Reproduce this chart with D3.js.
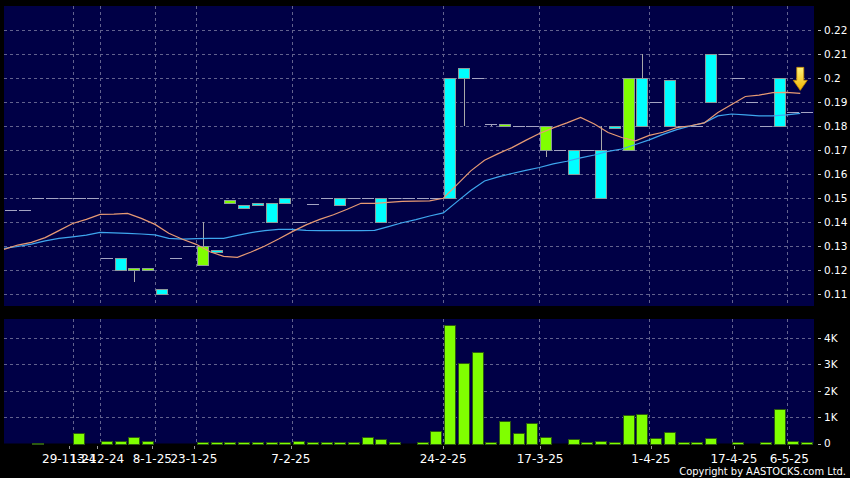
<!DOCTYPE html>
<html><head><meta charset="utf-8">
<script src="https://cdn.jsdelivr.net/npm/d3@7"></script>
<style>html,body{margin:0;padding:0;background:#000;}svg{display:block;}</style>
</head><body>
<svg id="chart" width="850" height="478"></svg>
<script>
// ---------------- data ----------------
const slots = d3.range(59);
const dateTickSlots = [5, 7, 11, 14, 21, 32, 39, 47, 53, 57];
const dateLabels = ["29-11-24", "13-12-24", "8-1-25", "23-1-25", "7-2-25", "24-2-25", "17-3-25", "1-4-25", "17-4-25", "6-5-25"];
const open  = [.145,.145,.15,.15,.15,.15,.15,.125,.12,.121,.121,.11,.125,.13,.13,.1275,.149,.146,.147,.14,.148,.14,.1475,.15,.147,.15,.15,.14,.15,.15,.15,.15,.15,.20,.20,.181,.181,.18,.18,.18,.17,.16,.17,.15,.179,.20,.18,.19,.18,.18,.18,.19,.21,.20,.19,.18,.18,.186,.186];
const high  = [.145,.145,.15,.15,.15,.15,.15,.125,.125,.121,.121,.112,.125,.13,.14,.1285,.149,.147,.148,.148,.15,.14,.1475,.15,.15,.15,.15,.15,.15,.15,.15,.15,.20,.204,.20,.181,.181,.18,.18,.18,.17,.17,.17,.18,.18,.20,.21,.19,.199,.18,.18,.21,.21,.20,.19,.18,.20,.186,.186];
const low   = [.145,.145,.15,.15,.15,.15,.15,.125,.12,.115,.12,.11,.125,.13,.122,.1275,.148,.146,.147,.14,.148,.14,.1475,.15,.147,.15,.15,.14,.15,.15,.15,.15,.15,.18,.20,.18,.18,.18,.18,.167,.17,.16,.17,.15,.179,.17,.18,.19,.18,.18,.18,.19,.21,.20,.19,.18,.18,.186,.186];
const close = [.145,.145,.15,.15,.15,.15,.15,.125,.125,.12,.12,.112,.125,.13,.122,.1285,.148,.147,.148,.148,.15,.14,.1475,.15,.15,.15,.15,.15,.15,.15,.15,.15,.20,.204,.20,.181,.18,.18,.18,.17,.17,.17,.17,.17,.18,.17,.20,.19,.199,.18,.18,.21,.21,.20,.19,.18,.20,.186,.186];
const volumeK = [0,0,0.01,0,0,0.38,0,0.09,0.09,0.23,0.08,0,0,0,0.06,0.05,0.05,0.05,0.05,0.05,0.06,0.10,0.06,0.05,0.06,0.05,0.24,0.18,0.06,0,0.06,0.48,4.5,3.04,3.47,0.05,0.85,0.38,0.78,0.24,0,0.17,0.05,0.08,0.05,1.08,1.12,0.19,0.42,0.04,0.04,0.20,0,0.05,0,0.04,1.30,0.09,0.07];
const maShort = [.1286,.1304,.1315,.1335,.1364,.1394,.1411,.1432,.1433,.1436,.1415,.139,.1353,.1328,.1307,.1276,.1257,.1253,.1275,.13,.1329,.136,.1388,.1411,.143,.1453,.1478,.1478,.1482,.1486,.1487,.1488,.1499,.1556,.1613,.1657,.1685,.171,.174,.1769,.1792,.1813,.1836,.1808,.1773,.1752,.1738,.1761,.1774,.1793,.1801,.1813,.1856,.189,.1923,.1929,.1939,.194,.1936];
const maLong  = [.129,.1298,.1308,.1321,.1332,.1338,.1345,.1357,.1355,.1353,.135,.1346,.1332,.1329,.1331,.1332,.1332,.1344,.1356,.1364,.1369,.1369,.1365,.1364,.1364,.1364,.1364,.1365,.1381,.1397,.141,.1425,.1438,.1485,.1531,.1571,.1588,.1602,.1615,.1627,.1642,.1653,.1667,.1679,.1694,.1704,.1723,.1742,.1765,.1785,.18,.1813,.1842,.185,.1846,.1842,.1842,.1846,.1853];
const priceTicks = [0.11,0.12,0.13,0.14,0.15,0.16,0.17,0.18,0.19,0.20,0.21,0.22];
const volTicks = [0,1,2,3,4];

// ---------------- layout ----------------
const svg = d3.select("#chart");
const L = 4, R = 814, mainTop = 6, mainBot = 306, volTop = 319, volBot = 443.5;
const navy = "#000046", gridCol = "#62628e";

const x = d3.scaleBand().domain(slots).range([L, R]);
const tickX = d3.scaleLinear().domain([0, 59]).range([0, 817]);
const y = d3.scaleLinear().domain([0.105, 0.23]).range([mainBot, mainTop]);
const yv = d3.scaleLinear().domain([0, 4.72]).range([volBot, volTop]);
const bw = x.bandwidth();
const inset = 0.8;

svg.append("rect").attr("width", 850).attr("height", 478).attr("fill", "#000");
svg.append("rect").attr("x", L).attr("y", mainTop).attr("width", R - L).attr("height", mainBot - mainTop).attr("fill", navy);
svg.append("rect").attr("x", L).attr("y", volTop).attr("width", R - L).attr("height", volBot - volTop).attr("fill", navy);

// grids
const grid = svg.append("g").attr("stroke", gridCol).attr("stroke-dasharray", "3,3").attr("stroke-width", 1).attr("shape-rendering", "crispEdges");
grid.selectAll(".hp").data(priceTicks).join("line")
  .attr("x1", L).attr("x2", R).attr("y1", d => Math.round(y(d)) + 0.5).attr("y2", d => Math.round(y(d)) + 0.5);
grid.selectAll(".hv").data(volTicks.filter(d => d > 0)).join("line").attr("class", "hv")
  .attr("x1", L).attr("x2", R).attr("y1", d => Math.round(yv(d)) + 0.5).attr("y2", d => Math.round(yv(d)) + 0.5);
grid.selectAll(".vm").data(dateTickSlots).join("line").attr("class", "vm")
  .attr("x1", d => Math.round(x(d)) + 0.5).attr("x2", d => Math.round(x(d)) + 0.5).attr("y1", mainTop).attr("y2", mainBot);
grid.selectAll(".vv").data(dateTickSlots).join("line").attr("class", "vv")
  .attr("x1", d => Math.round(x(d)) + 0.5).attr("x2", d => Math.round(x(d)) + 0.5).attr("y1", volTop).attr("y2", volBot);

// candles
const cd = slots.map(i => ({i, o: open[i], h: high[i], l: low[i], c: close[i]}));
const cg = svg.append("g");
cg.selectAll(".wick").data(cd.filter(d => d.h > Math.max(d.o, d.c) || d.l < Math.min(d.o, d.c))).join("line")
  .attr("class", "wick").attr("stroke", "#a8a8a8").attr("stroke-width", 1).attr("shape-rendering", "crispEdges")
  .attr("x1", d => Math.round(x(d.i) + bw / 2) + 0.5).attr("x2", d => Math.round(x(d.i) + bw / 2) + 0.5)
  .attr("y1", d => y(d.h)).attr("y2", d => y(d.l));
cg.selectAll(".doji").data(cd.filter(d => d.o === d.c)).join("line")
  .attr("class", "doji").attr("stroke", "#a4a4c2").attr("stroke-width", 1).attr("shape-rendering", "crispEdges")
  .attr("x1", d => x(d.i) + inset).attr("x2", d => x(d.i) + bw - inset)
  .attr("y1", d => Math.round(y(d.c)) + 0.5).attr("y2", d => Math.round(y(d.c)) + 0.5);
cg.selectAll(".body").data(cd.filter(d => d.o !== d.c)).join("rect")
  .attr("class", "body")
  .attr("x", d => Math.round(x(d.i) + inset) + 0.5).attr("width", Math.round(bw - 2 * inset) - 1)
  .attr("y", d => Math.round(y(Math.max(d.o, d.c))) + 0.5)
  .attr("height", d => Math.max(1, Math.round(y(Math.min(d.o, d.c))) - Math.round(y(Math.max(d.o, d.c)))))
  .attr("fill", d => d.c > d.o ? "#00ffff" : "#80ff00")
  .attr("stroke", "#8c9c9c").attr("stroke-width", 1).attr("shape-rendering", "crispEdges");

// moving averages (plotted at slot edges)
const lineFn = arr => d3.line().x((d, i) => x(i)).y(d => y(d))(arr);
svg.append("path").attr("d", lineFn(maLong)).attr("fill", "none").attr("stroke", "#3ea6ee").attr("stroke-width", 1.2);
svg.append("path").attr("d", lineFn(maShort)).attr("fill", "none").attr("stroke", "#e79a74").attr("stroke-width", 1.2);

// arrow annotation at last point
const defs = svg.append("defs");
const gr = defs.append("linearGradient").attr("id", "ag").attr("x1", 0).attr("x2", 0).attr("y1", 0).attr("y2", 1);
gr.append("stop").attr("offset", "0%").attr("stop-color", "#fff27a");
gr.append("stop").attr("offset", "100%").attr("stop-color", "#f2b400");
const ax = x(58), ay = y(maShort[58]) - 3;
svg.append("path")
  .attr("d", `M${ax - 3.5},${ay - 23} L${ax + 3.5},${ay - 23} L${ax + 3.5},${ay - 10} L${ax + 7},${ay - 10} L${ax},${ay} L${ax - 7},${ay - 10} L${ax - 3.5},${ay - 10} Z`)
  .attr("fill", "url(#ag)").attr("stroke", "#c88a00").attr("stroke-width", 0.8);

// volume bars
svg.append("g").selectAll("rect").data(slots.filter(i => volumeK[i] > 0)).join("rect")
  .attr("x", i => Math.round(x(i) + inset) + 0.5).attr("width", Math.round(bw - 2 * inset) - 1)
  .attr("y", i => Math.round(yv(volumeK[i])) + 0.5)
  .attr("height", i => Math.max(1, Math.round(volBot) - Math.round(yv(volumeK[i]))))
  .attr("fill", "#80ff00").attr("stroke", "#2c5a10").attr("stroke-width", 1).attr("shape-rendering", "crispEdges");

// right axes
const fmtP = d => String(+d.toFixed(2));
const pa = svg.append("g").attr("font-family", "DejaVu Sans").attr("font-size", 10.5).attr("fill", "#fff");
pa.selectAll("line").data(priceTicks).join("line").attr("stroke", "#bbb").attr("shape-rendering", "crispEdges")
  .attr("x1", 818).attr("x2", 821).attr("y1", d => Math.round(y(d)) + 0.5).attr("y2", d => Math.round(y(d)) + 0.5);
pa.selectAll("text").data(priceTicks).join("text").attr("x", 824).attr("y", d => y(d)).attr("dy", "0.36em").text(fmtP);
const va = svg.append("g").attr("font-family", "DejaVu Sans").attr("font-size", 10.5).attr("fill", "#fff");
va.selectAll("line").data(volTicks).join("line").attr("stroke", "#bbb").attr("shape-rendering", "crispEdges")
  .attr("x1", 818).attr("x2", 821).attr("y1", d => Math.round(yv(d)) + 0.5).attr("y2", d => Math.round(yv(d)) + 0.5);
va.selectAll("text").data(volTicks).join("text").attr("x", 824).attr("y", d => yv(d)).attr("dy", "0.36em").text(d => d === 0 ? "0" : d + "K");

// bottom date axis
const da = svg.append("g").attr("font-family", "DejaVu Sans").attr("font-size", 12).attr("fill", "#fff");
da.selectAll("line").data(dateTickSlots).join("line").attr("stroke", "#999").attr("shape-rendering", "crispEdges")
  .attr("x1", d => Math.round(tickX(d)) + 0.5).attr("x2", d => Math.round(tickX(d)) + 0.5).attr("y1", 446).attr("y2", 449);
da.selectAll("text").data(dateTickSlots).join("text").attr("text-anchor", "middle")
  .attr("x", d => tickX(d)).attr("y", 463).text((d, i) => dateLabels[i]);

svg.append("text").attr("x", 846).attr("y", 475).attr("text-anchor", "end")
  .attr("font-family", "DejaVu Sans Condensed, DejaVu Sans").attr("font-size", 11).attr("fill", "#fff")
  .text("Copyright by AASTOCKS.com Ltd.");
</script>
</body></html>
